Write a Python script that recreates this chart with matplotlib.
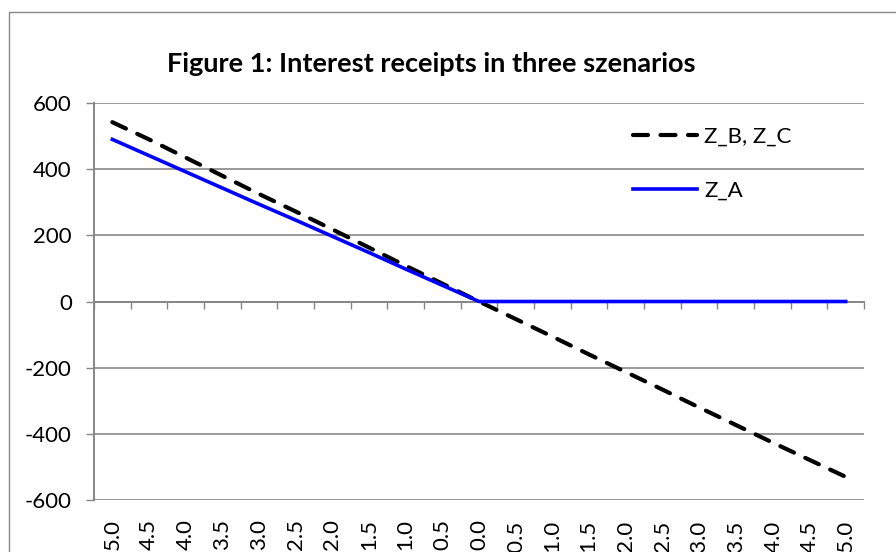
"""Interest receipts in three scenarios: Z_A vs Z_B/Z_C across interest rates."""

import matplotlib as mpl
import matplotlib.pyplot as plt
from matplotlib.patches import Rectangle

# interest rate in %, shown from 5.0 down to -5.0
rates = [5.0, 4.5, 4.0, 3.5, 3.0, 2.5, 2.0, 1.5, 1.0, 0.5, 0.0,
         -0.5, -1.0, -1.5, -2.0, -2.5, -3.0, -3.5, -4.0, -4.5, -5.0]
z_bc = [542, 490, 435, 380, 325, 272, 218, 163, 108, 54, 0,
        -53, -106, -160, -213, -266, -320, -373, -426, -478, -530]
z_a = [490, 441, 392, 343, 294, 246, 197, 148, 98, 49, 0,
       0, 0, 0, 0, 0, 0, 0, 0, 0, 0]
rate_labels = [f"{r:.1f}" for r in rates]
y_ticks = [-600, -400, -200, 0, 200, 400, 600]

GRID = "#878787"
W, H = 896, 552

mpl.rcParams.update(
    {
        "font.family": ["Lato", "DejaVu Sans"],
        "font.size": 16,
        "text.color": "black",
    }
)


def draw():
    fig = plt.figure(figsize=(W / 100, H / 100), dpi=100)
    ax = fig.add_axes([94 / W, 1 - 500 / H, 770 / W, 397 / H])

    # outer chart frame (right and bottom edge fall outside the picture)
    top = 1 - 12 / H
    fig.add_artist(
        Rectangle((9 / W, -0.2), 1.2, top + 0.2, transform=fig.transFigure,
                  facecolor="none", edgecolor=GRID, linewidth=1.0)
    )

    xs = list(range(len(rates)))
    ax.plot(xs, z_bc, color="black", linewidth=3.0, dashes=(3.6, 3.0),
            dash_capstyle="round", label="Z_B, Z_C", zorder=3)
    ax.plot(xs, z_a, color="#0000FF", linewidth=2.6, label="Z_A", zorder=4)

    ax.set_xlim(-0.5, len(rates) - 0.5)
    ax.set_ylim(-600, 600)
    ax.set_yticks(y_ticks)
    ax.set_yticklabels([str(v) for v in y_ticks])
    ax.yaxis.grid(True, color=GRID, linewidth=1.2)
    ax.set_axisbelow(True)
    ax.tick_params(axis="y", direction="out", length=6, width=1.0, color=GRID,
                   pad=10, labelsize=16)

    for side in ("top", "right"):
        ax.spines[side].set_visible(False)
    ax.spines["left"].set_color(GRID)
    ax.spines["left"].set_linewidth(1.4)

    # category axis sits at zero, with tick marks between the categories
    ax.spines["bottom"].set_position(("data", 0))
    ax.spines["bottom"].set_color(GRID)
    ax.spines["bottom"].set_linewidth(1.4)
    ax.set_xticks([x - 0.5 for x in xs] + [xs[-1] + 0.5])
    ax.tick_params(axis="x", direction="out", length=5, width=1.0, color=GRID,
                   labelbottom=False)

    # labels stay at the bottom of the plot area
    sec = ax.secondary_xaxis(0)
    sec.set_xticks(xs)
    sec.set_xticklabels(rate_labels, rotation=90)
    sec.tick_params(length=0, pad=14, labelsize=16)
    sec.spines["bottom"].set_visible(False)

    fig.text(431 / W, 1 - 64 / H, "Figure 1: Interest receipts in three szenarios",
             ha="center", va="center", fontsize=19.5, fontweight="bold")

    ax.legend(loc="upper left", bbox_to_anchor=(633 / W, 1 - 127 / H),
              bbox_transform=fig.transFigure, frameon=False, fontsize=16,
              handlelength=2.9, handletextpad=0.3, labelspacing=1.5,
              borderpad=0, borderaxespad=0)

    fig.savefig("out.png", dpi=100)
    plt.close(fig)


if __name__ == "__main__":
    draw()
